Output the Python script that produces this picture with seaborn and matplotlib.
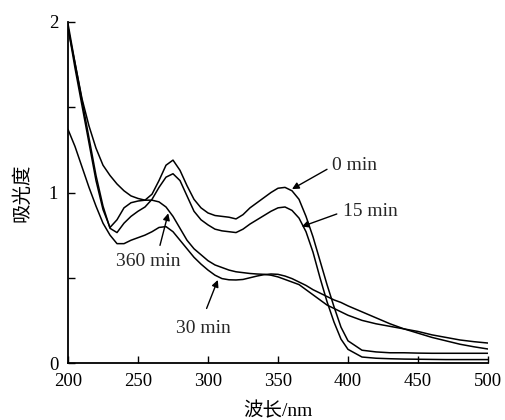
import matplotlib
matplotlib.use("Agg")
import matplotlib.pyplot as plt
import numpy as np
import pandas as pd
import seaborn as sns

# ---- data ----
wavelength = [200, 205, 210, 215, 220, 225, 230, 235, 240, 245, 250, 255, 260, 265, 270,
              275, 280, 285, 290, 295, 300, 305, 310, 315, 320, 325, 330, 335, 340, 345,
              350, 355, 360, 365, 370, 375, 380, 385, 390, 395, 400, 410, 420, 430, 440,
              450, 460, 470, 480, 490, 500]

abs_0min = [1.97, 1.73, 1.51, 1.29, 1.07, 0.90, 0.795, 0.84, 0.91, 0.94, 0.95, 0.955, 0.99, 1.07, 1.16,
            1.19, 1.13, 1.04, 0.96, 0.91, 0.88, 0.865, 0.86, 0.855, 0.845, 0.87, 0.91, 0.94, 0.97, 1.00,
            1.025, 1.03, 1.01, 0.96, 0.86, 0.74, 0.60, 0.46, 0.33, 0.21, 0.13, 0.075, 0.065, 0.06, 0.06,
            0.058, 0.057, 0.057, 0.057, 0.057, 0.057]

abs_15min = [1.99, 1.76, 1.54, 1.32, 1.10, 0.92, 0.79, 0.765, 0.82, 0.86, 0.89, 0.915, 0.96, 1.03, 1.09,
             1.11, 1.07, 0.98, 0.89, 0.84, 0.81, 0.785, 0.775, 0.77, 0.765, 0.785, 0.815, 0.84, 0.865, 0.89,
             0.91, 0.915, 0.895, 0.85, 0.77, 0.65, 0.50, 0.36, 0.24, 0.14, 0.08, 0.035, 0.028, 0.025, 0.023,
             0.022, 0.021, 0.02, 0.02, 0.02, 0.02]

abs_30min = [1.37, 1.27, 1.15, 1.03, 0.92, 0.82, 0.75, 0.70, 0.70, 0.72, 0.735, 0.75, 0.77, 0.795, 0.80,
             0.77, 0.72, 0.67, 0.62, 0.58, 0.545, 0.515, 0.495, 0.488, 0.487, 0.49, 0.50, 0.51, 0.518, 0.522,
             0.52, 0.51, 0.495, 0.475, 0.455, 0.43, 0.41, 0.39, 0.37, 0.355, 0.335, 0.30, 0.265, 0.23, 0.20,
             0.175, 0.15, 0.13, 0.11, 0.095, 0.082]

abs_360min = [1.96, 1.76, 1.55, 1.39, 1.26, 1.16, 1.10, 1.05, 1.01, 0.98, 0.965, 0.955, 0.955, 0.945, 0.915,
              0.86, 0.79, 0.72, 0.67, 0.635, 0.60, 0.575, 0.56, 0.545, 0.535, 0.53, 0.525, 0.522, 0.52, 0.515,
              0.505, 0.49, 0.475, 0.46, 0.43, 0.40, 0.37, 0.34, 0.32, 0.30, 0.28, 0.25, 0.23, 0.215, 0.20,
              0.185, 0.165, 0.15, 0.135, 0.125, 0.117]

series_labels = ["0 min", "15 min", "30 min", "360 min"]
x_ticks = [200, 250, 300, 350, 400, 450, 500]
y_ticks = [0, 0.5, 1, 1.5, 2]
y_ticklabels = ["0", "", "1", "", "2"]

# ---- build long table ----
frames = []
for name, vals in zip(series_labels, [abs_0min, abs_15min, abs_30min, abs_360min]):
    frames.append(pd.DataFrame({"wavelength": wavelength, "absorbance": vals, "time": name}))
df = pd.concat(frames, ignore_index=True)

sns.set_style("ticks")
plt.rcParams["font.family"] = ["Liberation Serif", "Noto Sans CJK SC"]
plt.rcParams["axes.unicode_minus"] = False

fig = plt.figure(figsize=(5.06, 4.2), dpi=100)
ax = fig.add_axes([68 / 506, 57 / 420, 420 / 506, 341 / 420])

sns.lineplot(data=df, x="wavelength", y="absorbance", hue="time",
             palette={n: "black" for n in series_labels}, linewidth=1.1,
             legend=False, ax=ax, sort=False)

ax.set_xlim(200, 500)
ax.set_ylim(0, 2)
ax.set_xticks(x_ticks)
ax.set_xticklabels([str(t) for t in x_ticks])
ax.set_yticks(y_ticks)
ax.set_yticklabels(y_ticklabels)
ax.tick_params(direction="in", length=5, width=1.0, labelsize=13.5, colors="black", pad=7)
for s in ["top", "right"]:
    ax.spines[s].set_visible(False)
for s in ["left", "bottom"]:
    ax.spines[s].set_linewidth(1.3)
    ax.spines[s].set_color("black")

ax.set_xlabel("波长/nm", fontsize=14, color="black")
ax.set_ylabel("吸光度", fontsize=14, color="black")
ax.xaxis.set_label_coords(0.5, -0.115)
ax.yaxis.set_label_coords(-0.088, 0.5)

arrow = dict(arrowstyle="-|>", color="black", lw=1.0, mutation_scale=10, shrinkA=0, shrinkB=0)

ann_fs = 14
ax.text(405, 1.16, "0 min", fontsize=ann_fs, ha="center", va="center")
ax.annotate("", xy=(360, 1.02), xytext=(385, 1.136), arrowprops=arrow)

ax.text(416, 0.889, "15 min", fontsize=ann_fs, ha="center", va="center")
ax.annotate("", xy=(367, 0.80), xytext=(392, 0.874), arrowprops=arrow)

ax.text(257, 0.595, "360 min", fontsize=ann_fs, ha="center", va="center")
ax.annotate("", xy=(271.6, 0.878), xytext=(265.7, 0.69), arrowprops=arrow)

ax.text(297, 0.205, "30 min", fontsize=ann_fs, ha="center", va="center")
ax.annotate("", xy=(307, 0.487), xytext=(299, 0.32), arrowprops=arrow)

fig.savefig("out.png", dpi=100)
